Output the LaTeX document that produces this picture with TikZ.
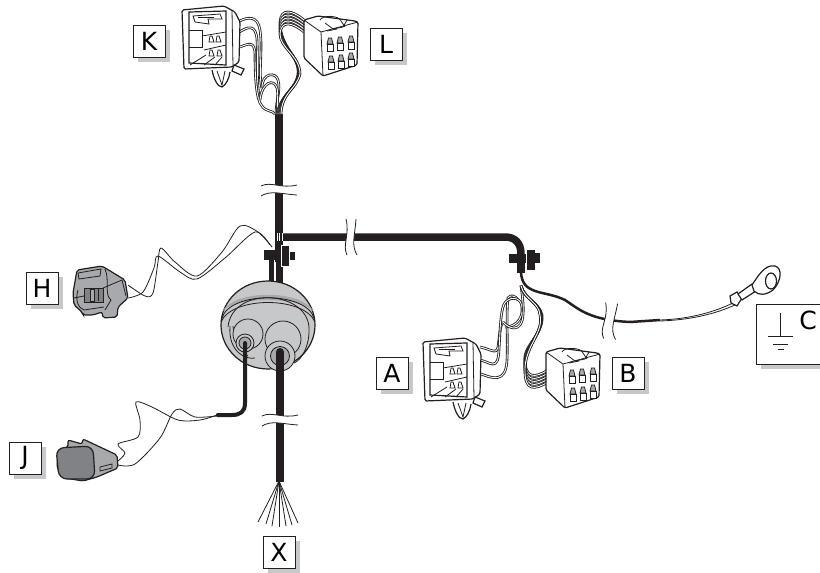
\documentclass[tikz,border=0pt]{standalone}
\usepackage{fontspec}
\setmainfont{DejaVu Sans}
\usetikzlibrary{shadows}
\definecolor{bodygray}{HTML}{A7A9AC}
\definecolor{padgray}{HTML}{C7C8CA}
\definecolor{facegray}{HTML}{808285}
\definecolor{inkblack}{HTML}{231F20}
\tikzset{
  labelbox/.style={draw=inkblack,line width=1pt,fill=white,minimum size=32pt,inner sep=0pt,
    font=\fontsize{25}{28}\selectfont,
    drop shadow={shadow xshift=5pt,shadow yshift=-5pt,fill=padgray,opacity=1}},
  trunk/.style={draw=inkblack,line width=7.5pt},
  leadwire/.style={draw=inkblack,line width=4pt,line cap=round},
  strand/.style={draw=inkblack,line width=.85pt,double=white,double distance=.9pt},
  thinwire/.style={draw=inkblack,line width=.8pt},
  outline/.style={draw=inkblack,line width=1.2pt},
  % socket with latch, wires leave on the right
  clipconn/.pic={
    \draw[outline,fill=white,rounded corners=1.5pt] (0,5) -- (42,1) -- (53,7) -- (58,17) -- (57,57) -- (50,62) -- (2,64) -- cycle;
    \draw[outline] (7,7) -- (44,6) -- (44,60) -- (7,58) -- cycle;
    \draw[thinwire] (50,5) -- (51,61);
    \draw[outline,fill=white] (30,65) .. controls (32,75) and (36,82) .. (40,82)
      .. controls (44,80) and (47,74) .. (48,67);
    \draw[thinwire] (35,66) -- (40,80) -- (43,66);
    \draw[outline,fill=white] (52,60) -- (62,64) -- (59,70) -- (50,66) -- cycle;
    % latch at the top
    \draw[thinwire] (13,17) -- (11,11) -- (38,9) -- (40,14) -- (26,14) -- (27,19) -- (13,17);
    \draw[thinwire] (16,12) -- (32,12);
    % inner walls
    \draw[thinwire] (7,25) -- (20,25) -- (20,42) -- (7,42);
    \draw[thinwire] (20,31) -- (44,27);
    \draw[thinwire] (22,45) -- (44,40);
    \draw[thinwire] (8,60) -- (24,50);
    \draw[thinwire] (22,60) -- (33,52);
    \draw[thinwire] (33,60) -- (40,52);
    % contacts
    \foreach \px/\py in {29/34,36/34,29/48,37/48} {
      \draw[thinwire,fill=white] (\px-2,\py+3) -- (\px-1,\py-3) -- (\px+1,\py-3) -- (\px+3,\py+3) -- cycle;
    }
  },
  % block with six pins, wires leave at the top left
  blockconn/.pic={
    \draw[outline,fill=white,rounded corners=1.5pt] (1,5) -- (15,1) -- (52,6) -- (55,7) -- (54,50) -- (20,61) -- (1,43) -- cycle;
    \draw[thinwire] (1,5) -- (18,17) -- (20,61);
    \draw[thinwire] (18,17) -- (55,7);
    \draw[thinwire] (17,5) .. controls (19,0) and (36,0) .. (38,6) -- (42,12);
    \draw[thinwire] (22,8) -- (30,14) -- (40,12) -- (44,5);
    \draw[thinwire] (24,16) -- (34,14);
    \foreach \px/\py in {27/31,37/30,48/29,28/49,38/48,48/46} {
      \draw[thinwire,fill=bodygray] (\px-3,\py-2) -- (\px-1.5,\py-8) -- (\px+1.5,\py-8) -- (\px+3,\py-2) -- cycle;
      \draw[thinwire,fill=white] (\px-3,\py-2) rectangle (\px+3,\py+5);
    }
  },
  % white gap across a wire, closed by two wavy lines
  gapmark/.pic={
    \fill[white] (-18,-4) .. controls (-8,-9) and (2,-1) .. (18,-5) -- (18,5) .. controls (2,4) and (-8,0) .. (-18,6) -- cycle;
    \draw[thinwire] (-18,-4) .. controls (-8,-9) and (2,-1) .. (18,-5);
    \draw[thinwire] (-18,6) .. controls (-8,0) and (2,4) .. (18,5);
  }
}
\begin{document}
\begin{tikzpicture}[x=1pt,y=-1pt]
\useasboundingbox (0,0) rectangle (820,573);
\clip (0,0) rectangle (820,573);
% Trunk and long branch
\draw[trunk] (279,114) -- (279,258);
\draw[trunk] (279,237) -- (505,237) .. controls (515,237) and (521,243) .. (521,254) -- (521,272);
\draw[inkblack,line width=5pt] (271.5,258) -- (271.5,285);
\draw[trunk] (279,258) -- (279,285);
\draw[white,line width=.8pt] (275.2,262) -- (275.2,285);
\foreach \sx in {277,279.5,282} {
  \draw[white,line width=.7pt] (\sx,233) -- (\sx,241);
}
\pic at (279,190) {gapmark};
\pic[rotate=90] at (351,237) {gapmark};
% Clips on the trunk
\fill[inkblack] (264,250) rectangle (281,260);
\draw[white,fill=inkblack,line width=.8pt] (281,245) rectangle (289.5,266);
\fill[inkblack] (289.5,252) rectangle (295,260);
\fill[inkblack] (509,254) rectangle (526,263);
\draw[white,fill=inkblack,line width=.8pt] (526,249) rectangle (535,270);
\fill[inkblack] (535,253) rectangle (540,263);
% Grommet
\draw[outline,fill=padgray] (268,325) ellipse [x radius=47,y radius=44];
\fill[bodygray] (222,312) .. controls (234,289) and (302,289) .. (314,312)
  .. controls (302,296) and (234,296) .. (222,312) -- cycle;
\draw[thinwire] (222,318) .. controls (230,291) and (306,291) .. (314,318);
\draw[thinwire] (221,322) .. controls (232,296) and (304,296) .. (315,322);
\draw[thinwire] (228,327) .. controls (232,286) and (306,290) .. (309,327);
\draw[thinwire] (230,326) .. controls (228,352) and (246,360) .. (255,358);
\draw[thinwire] (309,327) .. controls (310,345) and (302,360) .. (294,363);
\draw[thinwire] (233,326) .. controls (234,340) and (240,352) .. (248,356);
% Bosses for the two leads
\draw[thinwire,fill=padgray] (248,334) circle [radius=15];
\draw[thinwire,fill=padgray] (283,339) circle [radius=18];
\draw[thinwire,fill=padgray] (245,343) circle [radius=9];
\draw[thinwire,fill=bodygray] (245,343) circle [radius=6];
\draw[thinwire,fill=padgray] (280,356) circle [radius=15];
\draw[thinwire,fill=bodygray] (280,356) circle [radius=9.5];
% Leads out of the grommet
\draw[leadwire] (245,343) -- (245,403) .. controls (245,412) and (240,415) .. (232,415) -- (218,415);
\draw[inkblack,line width=8pt] (280,352) -- (280,482);
\fill[inkblack] (280,352) circle [radius=4];
\pic at (280,420) {gapmark};
% Loose ends of the lower lead
\foreach \ex/\ey in {258/522,266/524,272/526,279/527,286/526,292/525,298/523} {
  \draw[thinwire] (279,481) -- (\ex,\ey);
}
% Branch to the ring terminal
\draw[inkblack,line width=2.5pt] (521,272) .. controls (522,296) and (545,290) .. (565,300)
  .. controls (580,310) and (590,320) .. (630,322) -- (660,320);
\pic[rotate=85,yscale=1.2] at (610,321) {gapmark};
\draw[thinwire] (660,320) .. controls (690,319) and (715,312) .. (735,302);
\draw[thinwire] (660,321) .. controls (690,320) and (716,314) .. (737,304);
\draw[outline,fill=white] (730,296) -- (737,292) -- (742,298) -- (737,306) -- (731,303) -- cycle;
\draw[outline,fill=white] (738,294) -- (752,284) -- (756,291) -- (742,300) -- cycle;
\draw[outline,fill=white] (752,285) .. controls (758,276) and (765,264) .. (775,266)
  .. controls (783,268) and (781,282) .. (773,290) .. controls (766,295) and (759,296) .. (754,291) -- cycle;
\draw[outline,fill=white] (771,281) ellipse [x radius=5.5,y radius=8];
% Wires of K and L
\draw[strand] (238,22) .. controls (248,16) and (258,16) .. (260,30) .. controls (263,50) and (258,75) .. (262,88);
\draw[strand] (238,33) .. controls (248,26) and (256,24) .. (257,40) .. controls (258,60) and (256,85) .. (260,100);
\draw[strand] (240,47) .. controls (248,44) and (255,40) .. (255,55) .. controls (255,75) and (256,100) .. (262,106)
  .. controls (266,112) and (272,110) .. (275,114);
\draw[strand] (262,88) .. controls (262,72) and (276,72) .. (278,80) .. controls (281,90) and (276,100) .. (276,114);
\draw[strand] (260,100) .. controls (262,82) and (274,78) .. (277,88) .. controls (279,98) and (276,105) .. (278,114);
\foreach \wa/\wb in {20/0,23/2,26/4,29/6,32/8} {
  \draw[strand] (304,\wa) .. controls (292,\wa-10) and (281,\wa-12) .. (280,\wa+2)
    .. controls (280,48) and (300,56) .. (298+\wb/4,74) .. controls (296,90) and (282,92) .. (277+\wb/2,114);
}
\pic at (182,5) {clipconn};
\pic at (303,15) {blockconn};
% Wires of A and B
\draw[strand] (480,347) .. controls (490,349) and (497,355) .. (498,347) .. controls (499,340) and (500,325) .. (503,322);
\draw[strand] (480,360) .. controls (490,362) and (498,372) .. (499,350) .. controls (500,335) and (500,318) .. (503,307);
\draw[strand] (481,374) .. controls (492,378) and (506,384) .. (507,360) .. controls (508,340) and (506,315) .. (508,298)
  .. controls (510,294) and (516,296) .. (518,300);
\draw[strand] (503,307) .. controls (505,298) and (517,295) .. (521,303) .. controls (525,315) and (518,327) .. (505,327);
\draw[strand] (503,322) .. controls (510,330) and (522,332) .. (523,315) .. controls (524,305) and (522,295) .. (521,285);
\foreach \wa/\wb in {370/0,373/2,376/4,379/6,382/8} {
  \draw[strand] (548,\wa) .. controls (535,\wa+8) and (524,\wa+10) .. (525,\wa-14)
    .. controls (526,345) and (544,332) .. (542-\wb/4,315) .. controls (539,302) and (525,300) .. (521,286);
}
\pic at (423,337) {clipconn};
\pic at (545,347) {blockconn};
\fill[inkblack] (517,263) rectangle (525,273);
% Connector H
\draw[outline,fill=bodygray,rounded corners=2pt] (77,270) -- (102,266) -- (125,280) -- (128,298) -- (118,307) -- (117,317)
  -- (103,318) -- (102,312) -- (93,315) -- (83,315) -- (82,312) -- (74,305) -- (73,293) -- cycle;
\draw[thinwire] (78,273) -- (101,269) -- (100,276) -- (79,279) -- cycle;
\draw[thinwire] (105,269) .. controls (110,280) and (104,295) .. (111,300) -- (105,310);
\draw[thinwire] (74,298) -- (84,296);
\draw[thinwire] (78,290) .. controls (75,300) and (78,308) .. (84,310) -- (104,307);
\draw[thinwire] (103,288) -- (122,280) -- (126,296);
\draw[thinwire,fill=facegray] (84,288) rectangle (103,302);
\draw[thinwire,fill=bodygray] (90,289) rectangle (94,301);
\draw[thinwire] (98,289) -- (98,301);
\draw[thinwire] plot[smooth] coordinates {(128,285) (145,296) (153,293) (158,262) (161,248) (175,262) (197,276) (222,252) (240,226) (258,232) (272,247)};
\draw[thinwire] plot[smooth] coordinates {(128,298) (143,292) (154,268) (158,256) (180,272) (197,279) (225,258) (255,232) (270,245)};
% Connector J
\draw[outline,fill=bodygray,rounded corners=2pt] (58,453) -- (68,447) -- (68,440) -- (82,444) -- (83,439) -- (100,447)
  -- (117,455) -- (118,468) -- (97,477) -- (83,481) -- (65,478) -- (57,468) -- cycle;
\draw[outline,fill=facegray,rounded corners=8pt] (56,448) -- (93,446) -- (95,479) -- (59,479) -- cycle;
\draw[thinwire,fill=bodygray] (100,467) -- (112,464) -- (112,468) -- (100,471) -- cycle;
\draw[thinwire] plot[smooth] coordinates {(118,461) (125,453) (118,444) (138,437) (140,420) (136,402) (152,407) (178,420) (200,420) (217,415)};
\draw[thinwire] plot[smooth] coordinates {(118,465) (135,464) (160,438) (172,414) (180,409) (195,417) (217,416)};
\fill[inkblack] (218,415) circle [radius=2];
% Labels
\node[labelbox] (labelK) at (149,41) {K};
\node[labelbox] (labelL) at (386,44) {L};
\node[labelbox] (labelA) at (392,373) {A};
\node[labelbox] (labelB) at (628,373) {B};
\node[labelbox] (labelH) at (42,288) {H};
\node[labelbox] (labelJ) at (25,458) {J};
\node[labelbox] (labelX) at (279,552) {X};
\node[labelbox,minimum width=76pt,minimum height=60pt] (boxC) at (794,334) {};
\node[font=\fontsize{25}{28}\selectfont] (labelC) at (808,320) {C};
% Ground sign
\draw[thinwire] (780,313) -- (780,336);
\draw[thinwire] (768,336) -- (793,336);
\draw[thinwire] (773,344) -- (788,344);
\draw[thinwire] (778,349.5) -- (784,349.5);
\end{tikzpicture}
\end{document}
